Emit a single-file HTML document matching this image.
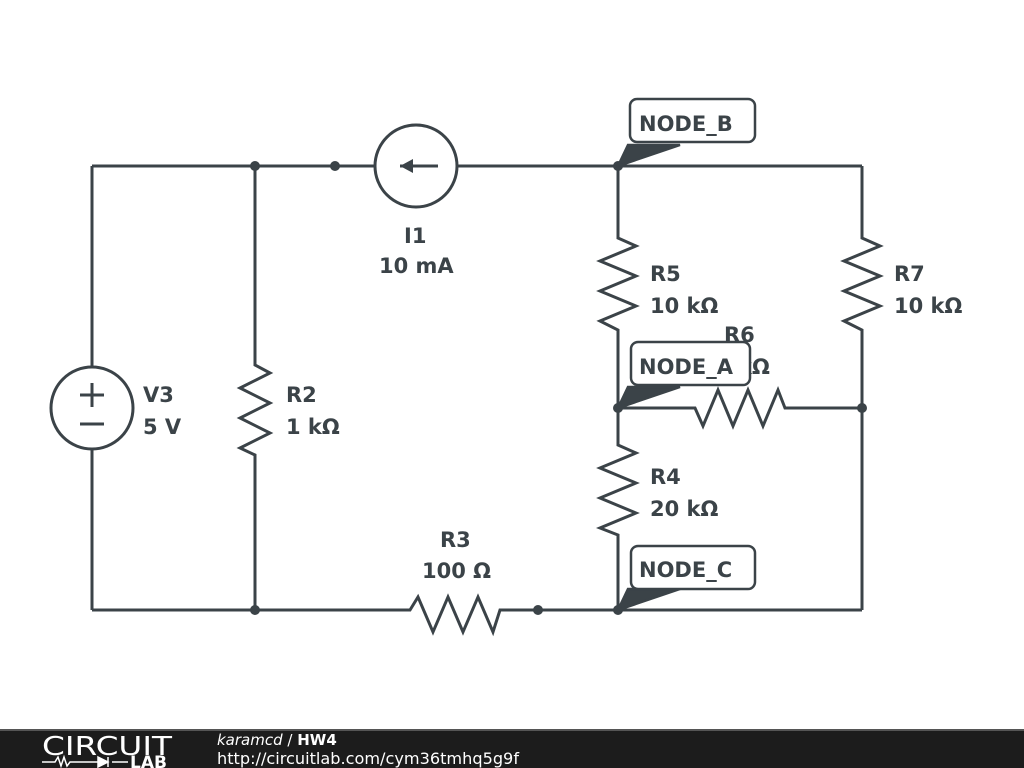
<!DOCTYPE html>
<html><head><meta charset="utf-8"><style>
html,body{margin:0;padding:0;background:#fff;}
svg{display:block;}
text{font-family:"DejaVu Sans","Liberation Sans",sans-serif;font-weight:bold;fill:#3b4348;font-size:21px;}
</style></head><body>
<svg width="1024" height="768" viewBox="0 0 1024 768" xmlns="http://www.w3.org/2000/svg">
<g stroke="#3b4348" stroke-width="3" fill="none" stroke-linejoin="miter">
<path d="M92 166 H375 M457 166 H862"/>
<circle cx="416" cy="166" r="41"/>
<path d="M438 166 H400"/>
<path d="M92 166 V367 M92 449 V610"/>
<circle cx="92" cy="408" r="41"/>
<path d="M80 395 H104 M92 383 V407 M80 424 H104"/>
<path d="M92 610 H410 L418 597 L433 632 L448 597 L463 632 L478 597 L493 632 L500 610 H862"/>
<path d="M255 166 V365 L270 373 L240 388 L270 403 L240 418 L270 433 L240 448 L255 455 V610"/>
<path d="M618 166 V238 L636 246 L600 261 L636 276 L600 291 L636 306 L600 321 L618 330 V445 L636 453 L600 468 L636 483 L600 498 L636 513 L600 528 L618 535 V610"/>
<path d="M618 408 H695 L703 426 L718 390 L733 426 L748 390 L763 426 L778 390 L785 408 H862"/>
<path d="M862 166 V238 L880 246 L844 261 L880 276 L844 291 L880 306 L844 321 L862 330 V610"/>
</g>
<path d="M400 166 L413 159 L413 173 Z" fill="#3b4348"/>
<g fill="#3b4348">
<circle cx="255" cy="166" r="5"/><circle cx="335" cy="166" r="5"/><circle cx="618" cy="166" r="5"/>
<circle cx="618" cy="408" r="5"/><circle cx="862" cy="408" r="5"/>
<circle cx="255" cy="610" r="5"/><circle cx="538" cy="610" r="5"/><circle cx="618" cy="610" r="5"/>
</g>
<text x="404" y="243">I1</text><text x="379" y="273">10 mA</text>
<text x="143" y="402">V3</text><text x="143" y="434">5 V</text>
<text x="286" y="402">R2</text><text x="286" y="434">1 kΩ</text>
<text x="440" y="547">R3</text><text x="422" y="578">100 Ω</text>
<text x="650" y="281">R5</text><text x="650" y="313">10 kΩ</text>
<text x="894" y="281">R7</text><text x="894" y="313">10 kΩ</text>
<text x="650" y="484">R4</text><text x="650" y="516">20 kΩ</text>
<text x="724" y="342">R6</text><text x="738" y="374">kΩ</text>
<g stroke="#3b4348" stroke-width="2.5" fill="#fff">
<path d="M618 166 L628 145 L680 145 Z" fill="#3b4348"/>
<rect x="630" y="99" width="125" height="43" rx="7"/>
<path d="M618 408 L628 387 L680 387 Z" fill="#3b4348"/>
<rect x="631" y="342" width="119" height="43" rx="7"/>
<path d="M618 610 L628 589 L680 589 Z" fill="#3b4348"/>
<rect x="631" y="546" width="124" height="43" rx="7"/>
</g>
<text x="639" y="131">NODE_B</text>
<text x="639" y="374">NODE_A</text>
<text x="639" y="577">NODE_C</text>
<rect x="0" y="729" width="1024" height="39" fill="#1c1c1c"/>
<rect x="0" y="729" width="1024" height="2" fill="#555"/>
<text x="42" y="755" textLength="130" lengthAdjust="spacingAndGlyphs" style="font-weight:normal;fill:#fff;font-size:26px;">CIRCUIT</text>
<path d="M42 762 H55 L58 757 L61 766 L64 757 L67 766 L70 762 H98 M112 762 H128" stroke="#fff" stroke-width="1.5" fill="none"/>
<path d="M98 757 L108 762 L98 767 Z M108 757 V767" fill="#fff" stroke="#fff" stroke-width="1.5"/>
<text x="130" y="768" style="fill:#fff;font-size:17px;">LAB</text>
<text x="217" y="745" style="fill:#fff;font-size:15px;font-weight:normal;font-style:italic;">karamcd <tspan font-style="normal">/</tspan> <tspan font-weight="bold" font-style="normal">HW4</tspan></text>
<text x="217" y="764" textLength="302" lengthAdjust="spacingAndGlyphs" style="fill:#fff;font-size:16px;font-weight:normal;">http://circuitlab.com/cym36tmhq5g9f</text>
</svg>
</body></html>
